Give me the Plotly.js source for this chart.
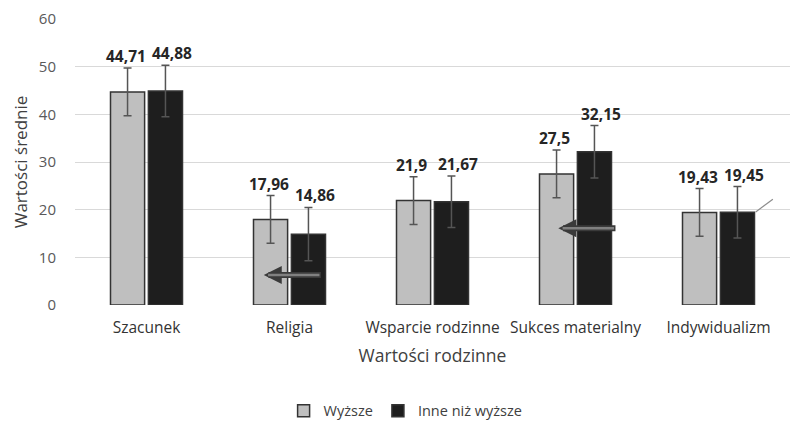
<!DOCTYPE html>
<html>
<head>
<meta charset="utf-8">
<script src="https://cdn.plot.ly/plotly-3.0.1.min.js"></script>
<style>html,body{margin:0;padding:0;background:#fff;}#chart{width:800px;height:421px;}</style>
</head>
<body>
<div id="chart"></div>
<script>
const categories = ["Szacunek", "Religia", "Wsparcie rodzinne", "Sukces materialny", "Indywidualizm"];
const seriesNames = ["Wyższe", "Inne niż wyższe"];
const valuesWyzsze = [44.71, 17.96, 21.9, 27.5, 19.43];
const valuesInne = [44.88, 14.86, 21.67, 32.15, 19.45];
const errWyzsze = [5.0, 5.0, 5.0, 5.0, 5.0];
const errInne = [5.4, 5.6, 5.4, 5.5, 5.4];
const labelsWyzsze = ["44,71", "17,96", "21,9", "27,5", "19,43"];
const labelsInne = ["44,88", "14,86", "21,67", "32,15", "19,45"];
const yTicks = [0, 10, 20, 30, 40, 50, 60];

const FONT = "'Open Sans', Lato, sans-serif";
const idx = categories.map((c, i) => i);

const traces = [
  {type: "bar", name: seriesNames[0], x: idx, y: valuesWyzsze,
   marker: {color: "#bfbfbf", line: {color: "#333333", width: 1.5}},
   error_y: {type: "data", array: errWyzsze, visible: true, color: "#555555", thickness: 1.5, width: 4}},
  {type: "bar", name: seriesNames[1], x: idx, y: valuesInne,
   marker: {color: "#1e1e1e", line: {color: "#333333", width: 1.5}},
   error_y: {type: "data", array: errInne, visible: true, color: "#555555", thickness: 1.5, width: 4}}
];

const offset = 0.145;
const annotations = [];
idx.forEach(i => {
  annotations.push({x: i - offset, y: valuesWyzsze[i] + errWyzsze[i], xref: "x", yref: "y",
    text: "<b>" + labelsWyzsze[i] + "</b>", showarrow: false, yanchor: "bottom", yshift: -1,
    font: {family: FONT, size: 15.5, color: "#262626"}});
  annotations.push({x: i + offset + 0.03, y: valuesInne[i] + errInne[i], xref: "x", yref: "y",
    text: "<b>" + labelsInne[i] + "</b>", showarrow: false, yanchor: "bottom", yshift: -1,
    font: {family: FONT, size: 15.5, color: "#262626"}});
});
// left-pointing block arrows
const arrows = [
  {cat: 1, y: 6.3, head: -0.18, tail: 0.23},
  {cat: 3, y: 16.1, head: -0.12, tail: 0.29}
];
arrows.forEach(a => {
  annotations.push({x: a.cat + a.head, y: a.y, ax: a.cat + a.tail, ay: a.y, xref: "x", yref: "y",
    axref: "x", ayref: "y", text: "", showarrow: true, arrowhead: 2, arrowsize: 0.6,
    arrowwidth: 6, arrowcolor: "#3a3a3a"});
  annotations.push({x: a.cat + a.head + 0.03, y: a.y, ax: a.cat + a.tail - 0.01, ay: a.y, xref: "x", yref: "y",
    axref: "x", ayref: "y", text: "", showarrow: true, arrowhead: 0,
    arrowwidth: 2.5, arrowcolor: "#808080"});
});

const layout = {
  width: 800, height: 421,
  margin: {l: 75, r: 10, t: 19, b: 116},
  paper_bgcolor: "#ffffff", plot_bgcolor: "#ffffff",
  font: {family: FONT, color: "#404040"},
  barmode: "group", bargap: 0.47, bargroupgap: 0.1,
  showlegend: true,
  legend: {orientation: "h", x: 0.507, xanchor: "center", xref: "container",
    y: 0.024, yanchor: "middle", yref: "container",
    font: {family: FONT, size: 14.5, color: "#404040"}, itemwidth: 30, traceorder: "normal"},
  xaxis: {tickmode: "array", tickvals: idx, ticktext: categories, range: [-0.5, 4.5],
    showgrid: false, zeroline: false, showline: false, ticks: "",
    tickfont: {family: FONT, size: 15.5, color: "#333333"}, ticklabelstandoff: 11,
    title: {text: "Wartości rodzinne", font: {family: FONT, size: 17.5, color: "#404040"}, standoff: 13}},
  yaxis: {range: [0, 60], tickmode: "array", tickvals: yTicks, ticktext: yTicks.map(String),
    showgrid: true, gridcolor: "#d9d9d9", gridwidth: 1, zeroline: false, showline: false,
    tickfont: {family: FONT, size: 15, color: "#595959"}, ticks: "", ticklabelstandoff: 18,
    title: {text: "Wartości średnie", font: {family: FONT, size: 17, color: "#404040"}, standoff: 6}},
  annotations: annotations,
  shapes: [
    {type: "line", xref: "x", yref: "y", x0: 4.26, y0: 19.5, x1: 4.38, y1: 22.2,
     line: {color: "#8c8c8c", width: 1.2}}
  ]
};

Plotly.newPlot("chart", traces, layout, {displayModeBar: false, staticPlot: true});
</script>
</body>
</html>
